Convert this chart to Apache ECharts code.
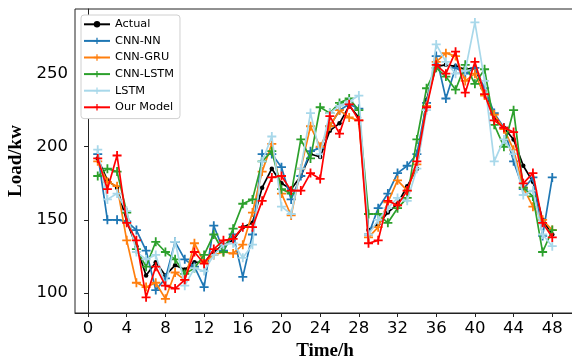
<!DOCTYPE html>
<html>
<head>
<meta charset="utf-8">
<script src="https://cdn.jsdelivr.net/npm/echarts@6/dist/echarts.min.js"></script>
<style>html,body{margin:0;padding:0;background:#fff}#c{width:572px;height:357px}</style>
</head>
<body>
<div id="c"></div>
<script>
const hours = [1,2,3,4,5,6,7,8,9,10,11,12,13,14,15,16,17,18,19,20,21,22,23,24,25,26,27,28,29,30,31,32,33,34,35,36,37,38,39,40,41,42,43,44,45,46,47,48];
const xTicks = [0,4,8,12,16,20,24,28,32,36,40,44,48];
const yTicks = [100,150,200,250];
const seriesNames = ['Actual','CNN-NN','CNN-GRU','CNN-LSTM','LSTM','Our Model'];
const actual  = [192,177,172,149,132,112,121,112,119,116,121,121,128,133,136,145,148,172,185,175,171,180,195,193,211,216,228,220,143,147,155,161,173,185,232,255,256,255,253,254,238,220,213,205,187,176,150,140];
const cnnNN   = [195,150,150,149,143,129,102,110,135,123,118,104,146,129,140,111,140,195,195,186,164,180,197,199,214,225,229,226,140,158,168,182,187,195,230,262,233,254,250,254,240,223,213,190,171,179,139,179];
const cnnGRU  = [190,176,173,136,107,104,107,96,114,109,134,121,126,128,127,133,155,183,202,168,153,185,214,200,214,225,220,218,138,145,162,177,170,188,228,258,264,262,245,250,235,222,212,198,172,159,150,143];
const cnnLSTM = [180,185,183,155,130,118,135,128,123,113,117,126,140,128,144,161,164,190,197,171,168,205,192,227,223,230,233,225,154,154,148,158,165,205,240,254,248,239,256,243,253,215,200,225,172,166,128,143];
const lstm    = [198,164,168,156,128,123,126,105,135,105,117,115,126,133,134,124,133,190,207,159,154,185,223,195,223,228,231,235,140,150,158,165,163,185,225,270,258,250,252,285,245,190,205,195,167,170,140,132];
const ourModel= [192,171,194,148,136,97,118,105,103,109,128,120,130,136,137,145,145,163,179,180,170,170,182,178,221,209,229,218,134,136,163,160,170,190,227,256,250,265,237,258,236,218,213,210,175,182,148,138];
const colors = ['#000000','#1f77b4','#ff7f0e','#2ca02c','#a8d8ea','#ff0000'];
const allValues = [actual, cnnNN, cnnGRU, cnnLSTM, lstm, ourModel];

const plus = 'path://M-0.2,-1H0.2V-0.2H1V0.2H0.2V1H-0.2V0.2H-1V-0.2H-0.2Z';

const series = seriesNames.map((name, i) => ({
  name: name,
  type: 'line',
  data: hours.map((h, k) => [h, allValues[i][k]]),
  symbol: i === 0 ? 'circle' : plus,
  symbolSize: i === 0 ? 4.5 : 9,
  lineStyle: { color: colors[i], width: 1.7 },
  itemStyle: { color: colors[i] },
  emphasis: { disabled: true },
  z: 2 + i
}));

const chart = echarts.init(document.getElementById('c'), null, { renderer: 'canvas' });
chart.setOption({
  animation: false,
  backgroundColor: '#fff',
  grid: { left: 75, top: 9, width: 500, height: 304, show: true, borderColor: '#222', borderWidth: 1, containLabel: false, outerBoundsMode: 'none' },
  legend: {
    left: 81, top: 15, orient: 'vertical',
    data: seriesNames,
    itemWidth: 26, itemHeight: 8, itemGap: 0,
    padding: [1, 6, 3, 2],
    backgroundColor: '#fff', borderColor: '#d0d0d0', borderWidth: 1, borderRadius: 3,
    textStyle: { fontFamily: 'DejaVu Sans', fontSize: 11.3, color: '#000', lineHeight: 16.6 }
  },
  xAxis: {
    type: 'value', min: -1.35, max: 50.35,
    name: 'Time/h', nameLocation: 'middle', nameGap: 23,
    nameTextStyle: { fontFamily: 'Liberation Serif', fontWeight: 'bold', fontSize: 19, color: '#000' },
    axisLine: { show: true, lineStyle: { color: '#222', width: 1 } },
    axisTick: { show: true, inside: false, length: 4, lineStyle: { color: '#222' }, customValues: xTicks },
    axisLabel: { fontFamily: 'DejaVu Sans', fontSize: 16.5, color: '#000', margin: 7, customValues: xTicks },
    splitLine: { show: false }
  },
  yAxis: {
    type: 'value', min: 86.3, max: 294.2,
    name: 'Load/kw', nameLocation: 'middle', nameGap: 48,
    nameTextStyle: { fontFamily: 'Liberation Serif', fontWeight: 'bold', fontSize: 19, color: '#000' },
    axisLine: { show: true, lineStyle: { color: '#222', width: 1 } },
    axisTick: { show: true, inside: false, length: 4, lineStyle: { color: '#222' }, customValues: yTicks },
    axisLabel: { fontFamily: 'DejaVu Sans', fontSize: 16.5, color: '#000', margin: 7, customValues: yTicks },
    splitLine: { show: false }
  },
  series: series
});
</script>
</body>
</html>
